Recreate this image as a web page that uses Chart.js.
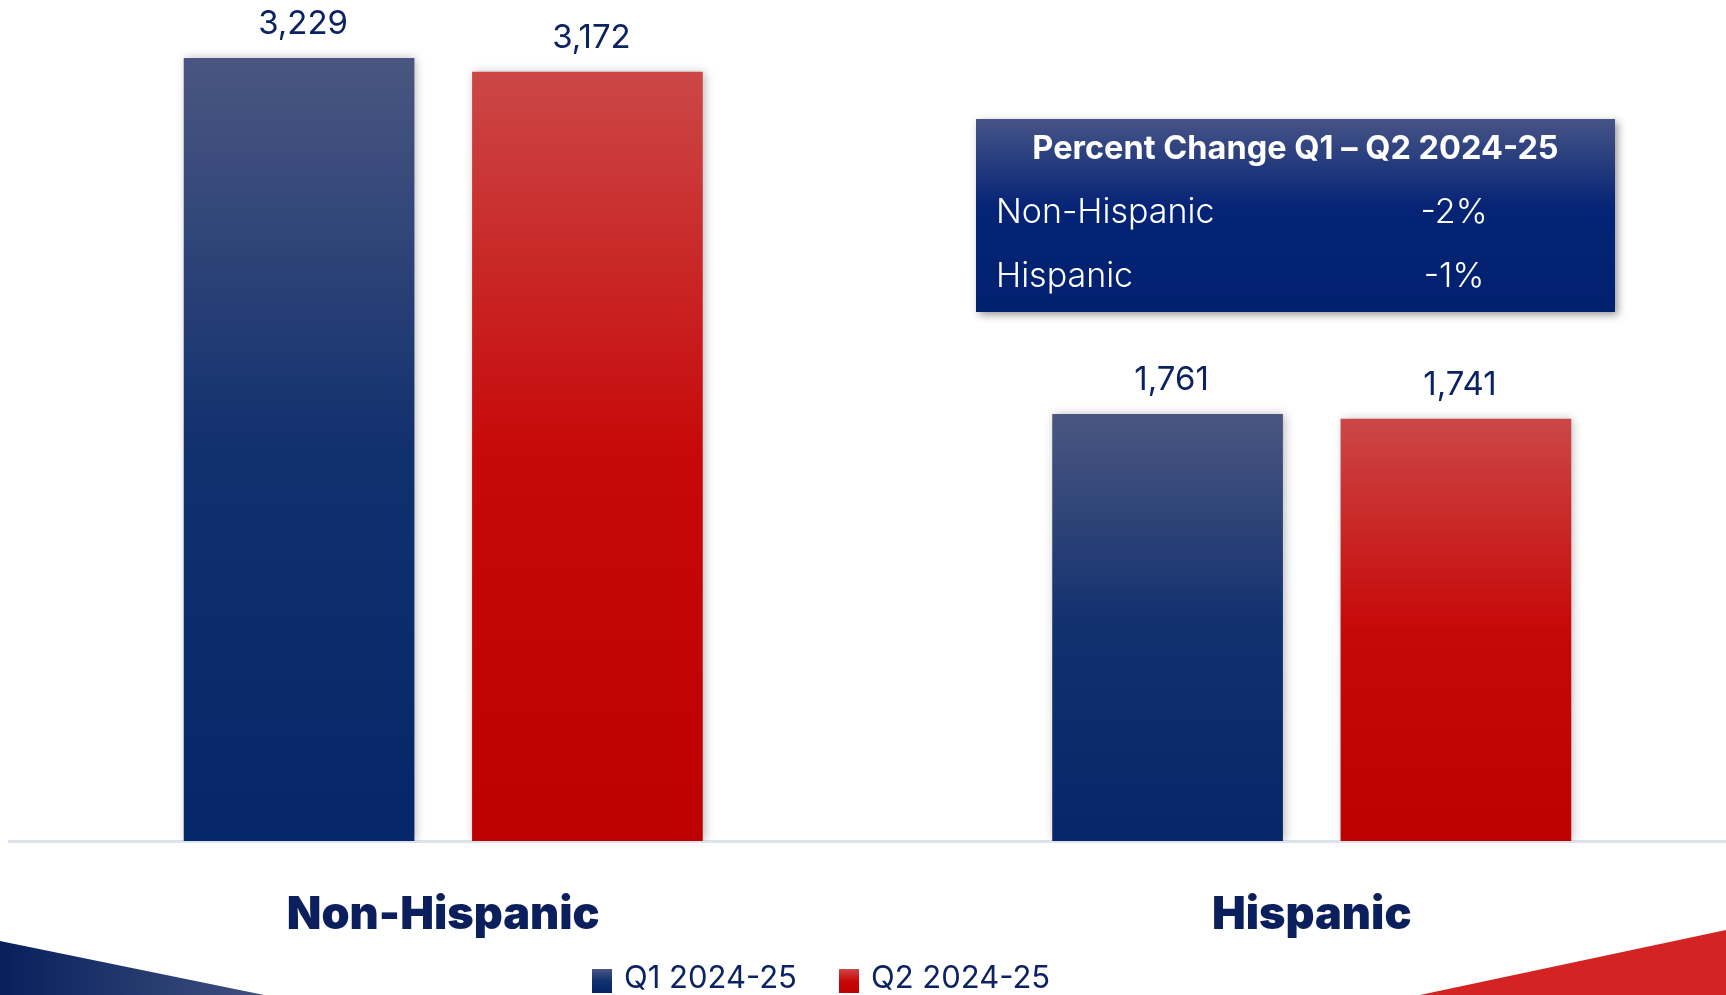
<!DOCTYPE html>
<html>
<head>
<meta charset="utf-8">
<title>Non-Hispanic / Hispanic Q1-Q2 2024-25</title>
<script src="https://cdn.jsdelivr.net/npm/chart.js@4"></script>
<style>
  html, body { margin: 0; padding: 0; background: #fff; overflow: hidden; }
  #wrap { position: relative; width: 1760px; height: 995px; }
</style>
</head>
<body>
<div id="wrap"><canvas id="ethnicityChart"></canvas></div>
<script>
// Counts by ethnicity, two quarters
const categories = ['Non-Hispanic', 'Hispanic'];
const seriesNames = ['Q1 2024-25', 'Q2 2024-25'];
const q1Values = [3229, 1761];
const q2Values = [3172, 1741];
const tableTitle = 'Percent Change Q1 \u2013 Q2 2024-25';

const FONT = 'Inter, "Open Sans", sans-serif';
const NAVY = '#0c2363';

const blueStops = ['#4a5681', '#11306e', '#06266a'];
const redStops = ['#cc4747', '#c70808', '#bd0000'];

function fillGradient(ctx2d, top, bottom, stops) {
  const g = ctx2d.createLinearGradient(0, top, 0, bottom);
  g.addColorStop(0, stops[0]);
  g.addColorStop(0.5, stops[1]);
  g.addColorStop(1, stops[2]);
  return g;
}

// per-bar vertical gradient, from the bar's own top down to the baseline
function barFill(stops) {
  return function (c) {
    const chart = c.chart;
    if (!chart.chartArea || c.type !== 'data') return stops[2];
    const y = chart.scales.y;
    return fillGradient(chart.ctx, y.getPixelForValue(c.raw), y.getPixelForValue(0), stops);
  };
}

// background corner wedges
const cornerDecor = {
  id: 'cornerDecor',
  beforeDraw(chart) {
    const ctx = chart.ctx;
    const H = chart.height;
    ctx.save();
    let g = ctx.createLinearGradient(0, 0, 264, 0);
    g.addColorStop(0, '#07205c');
    g.addColorStop(1, '#40507f');
    ctx.fillStyle = g;
    ctx.beginPath();
    ctx.moveTo(0, 941);
    ctx.lineTo(264, H);
    ctx.lineTo(0, H);
    ctx.closePath();
    ctx.fill();

    ctx.fillStyle = '#d42323';
    ctx.beginPath();
    ctx.moveTo(1420, H);
    ctx.lineTo(1726, 930);
    ctx.lineTo(chart.width, 930 - (chart.width - 1726) * 65 / 306);
    ctx.lineTo(chart.width, H);
    ctx.closePath();
    ctx.fill();
    ctx.restore();
  }
};

// soft shadow behind each bar
const barShadow = {
  id: 'barShadow',
  beforeDatasetDraw(chart) {
    const ctx = chart.ctx;
    ctx.save();
    ctx.shadowColor = 'rgba(0,0,0,0.28)';
    ctx.shadowBlur = 9;
    ctx.shadowOffsetX = 2;
    ctx.shadowOffsetY = 0;
  },
  afterDatasetDraw(chart) {
    chart.ctx.restore();
  }
};

// value above each bar
const valueLabels = {
  id: 'valueLabels',
  afterDatasetsDraw(chart) {
    const ctx = chart.ctx;
    ctx.save();
    ctx.font = '400 33px ' + FONT;
    ctx.fillStyle = NAVY;
    ctx.textAlign = 'center';
    ctx.textBaseline = 'middle';
    chart.data.datasets.forEach((ds, i) => {
      chart.getDatasetMeta(i).data.forEach((bar, j) => {
        ctx.fillText(ds.data[j].toLocaleString('en-US'), bar.x + 4, bar.y - 34);
      });
    });
    ctx.restore();
  }
};

// percent change panel
const changeTable = {
  id: 'changeTable',
  afterDraw(chart) {
    const ctx = chart.ctx;
    const x = 976, y = 119, w = 639, h = 193;
    ctx.save();
    ctx.shadowColor = 'rgba(0,0,0,0.4)';
    ctx.shadowBlur = 8;
    ctx.shadowOffsetX = 3;
    ctx.shadowOffsetY = 3;
    const g = ctx.createLinearGradient(0, y, 0, y + h);
    g.addColorStop(0, '#465486');
    g.addColorStop(0.45, '#062476');
    g.addColorStop(1, '#01206e');
    ctx.fillStyle = g;
    ctx.fillRect(x, y, w, h);
    ctx.restore();

    ctx.save();
    ctx.fillStyle = '#ffffff';
    ctx.textBaseline = 'middle';
    ctx.textAlign = 'center';
    ctx.font = '700 32.5px ' + FONT;
    ctx.fillText(tableTitle, x + w / 2, 149);
    ctx.font = '300 34px ' + FONT;
    const rowY = [213, 277];
    categories.forEach((name, i) => {
      const pct = Math.round((q2Values[i] - q1Values[i]) / q1Values[i] * 100);
      ctx.textAlign = 'left';
      ctx.fillText(name, 996, rowY[i]);
      ctx.textAlign = 'center';
      ctx.fillText(pct + '%', 1454, rowY[i]);
    });
    ctx.restore();
  }
};

// legend under the category labels
const bottomLegend = {
  id: 'bottomLegend',
  afterDraw(chart) {
    const ctx = chart.ctx;
    const boxX = [592, 839];
    const stops = [blueStops, redStops];
    ctx.save();
    ctx.font = '400 31px ' + FONT;
    ctx.textBaseline = 'middle';
    ctx.textAlign = 'left';
    chart.data.datasets.forEach((ds, i) => {
      ctx.fillStyle = fillGradient(ctx, 969, 993, stops[i]);
      ctx.fillRect(boxX[i], 969, 20, 24);
      ctx.fillStyle = NAVY;
      ctx.fillText(ds.label, boxX[i] + 32, 979);
    });
    ctx.restore();
  }
};

new Chart(document.getElementById('ethnicityChart'), {
  type: 'bar',
  data: {
    labels: categories,
    datasets: [
      { label: seriesNames[0], data: q1Values, backgroundColor: barFill(blueStops) },
      { label: seriesNames[1], data: q2Values, backgroundColor: barFill(redStops) }
    ]
  },
  options: {
    responsive: true,
    maintainAspectRatio: false,
    animation: false,
    categoryPercentage: 0.664,
    barPercentage: 0.8,
    layout: { padding: { top: 2, left: 9, right: 14, bottom: 5 } },
    plugins: {
      legend: { display: false },
      tooltip: { enabled: false }
    },
    scales: {
      x: {
        grid: { display: false, drawTicks: false },
        border: { display: true, color: '#dce3eb', width: 3 },
        ticks: {
          color: '#0a1f5c',
          padding: 52,
          font: { family: FONT, size: 45, weight: 900, lineHeight: 1 }
        }
      },
      y: {
        display: false,
        min: 0,
        max: 3460
      }
    }
  },
  plugins: [cornerDecor, barShadow, valueLabels, changeTable, bottomLegend]
});
</script>
</body>
</html>
